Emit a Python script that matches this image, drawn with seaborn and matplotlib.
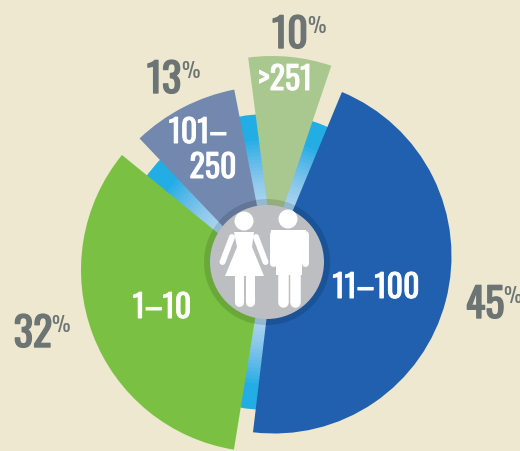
import matplotlib
matplotlib.use('Agg')
import seaborn as sns
import matplotlib.pyplot as plt
import matplotlib.patheffects as pe
from matplotlib.patches import Circle, Polygon

# group labels and the share printed next to each wedge
groups = ['11\u2013100', '1\u201310', '101\u2013\n250', '>251']
shares = [45, 32, 13, 10]
# the wedges are not drawn to scale in the original, so angles are read off it
spans = [164.3, 120.0, 32.4, 26.1]
starts = [-96.8, 140.8, 101.1, 71.3]
radii = [177.5, 182, 191, 185]
centers = [(274, 195), (263, 181), (271, 174), (272, 210)]
colors = ['#2060AE', '#7AC143', '#7388AF', '#A9C88F']

BG = '#EEE8D1'
GREY = '#6C7573'
FONT = ['Oswald', 'Saira ExtraCondensed', 'Liberation Sans', 'DejaVu Sans']

sns.set_theme(style='white')
plt.rcParams['font.family'] = FONT

fig = plt.figure(figsize=(5.2, 4.51), dpi=100, facecolor=BG)
ax = fig.add_axes([0, 0, 1, 1])
ax.set_facecolor(BG)

flat = dict(linewidth=0, edgecolor='none', antialiased=True)

# blue ring behind the wedges, fading towards the middle
ring = sns.blend_palette(['#22ADE5', '#22ADE5', '#5DB9E8', '#8CC8EC', '#AAD4EF'], 24)
for k, c in enumerate(ring):
    r = 148 - k * 90 / 24
    ax.pie([1], radius=r, center=(267, 189), colors=[c], frame=True, wedgeprops=flat)

for span, start, r, cen, col in zip(spans, starts, radii, centers, colors):
    ax.pie([span, 360 - span], startangle=start, radius=r, center=cen,
           colors=[col, 'none'], frame=True, wedgeprops=flat)

ax.add_patch(Circle((267, 189), 63, fc='black', alpha=0.13, ec='none', zorder=5))
ax.add_patch(Circle((267, 189), 57, fc='#BDBEC1', ec='none', zorder=6))

# woman
w = dict(color='white', solid_capstyle='round', zorder=7)
ax.add_patch(Circle((244, 230), 9.5, fc='white', ec='none', zorder=7))
ax.add_patch(Polygon([(234, 219), (254, 219), (252, 204), (264, 175), (225, 175), (237, 204)],
                     fc='white', ec='none', zorder=7))
ax.plot([232, 222.5], [214, 189], lw=4.3, **w)
ax.plot([256, 265.5], [214, 189], lw=4.3, **w)
ax.plot([238.5, 238.5], [176, 149], lw=6.5, **w)
ax.plot([249.5, 249.5], [176, 149], lw=6.5, **w)
# man
ax.add_patch(Circle((288, 232), 9.5, fc='white', ec='none', zorder=7))
ax.add_patch(Polygon([(271, 221), (306, 221), (307, 205), (302, 205), (302, 176), (276, 176), (276, 205), (270, 205)],
                     fc='white', ec='none', zorder=7))
ax.plot([272.5, 272.5], [217, 188], lw=5, **w)
ax.plot([305, 305], [217, 188], lw=5, **w)
ax.plot([283, 283], [178, 149], lw=7.6, **w)
ax.plot([294.5, 294.5], [178, 149], lw=7.6, **w)

# wedge labels
thick = [pe.withStroke(linewidth=0.7, foreground='white')]
inner = dict(color='white', ha='center', va='center', zorder=8, path_effects=thick)
ax.text(376, 163, groups[0], fontsize=23, **inner)
ax.text(162, 143, groups[1], fontsize=23, **inner)
ax.text(198, 318, groups[2].split('\n')[0], fontsize=23, **inner)
ax.text(213, 283, groups[2].split('\n')[1], fontsize=23, **inner)
ax.text(285, 371, groups[3], fontsize=23, **inner)

# share labels with a small raised percent sign
thick_grey = [pe.withStroke(linewidth=1.0, foreground=GREY)]
share_pos = [(485, 146), (33, 117), (164, 371), (290, 416)]
for val, (x, y) in zip(shares, share_pos):
    ax.text(x, y, str(val), color=GREY, fontsize=29, ha='center', va='center', path_effects=thick_grey)
    ax.text(x + 27, y + 9, '%', color=GREY, fontsize=15, ha='center', va='center')

ax.set_xlim(0, 520)
ax.set_ylim(0, 451)
ax.set_aspect('equal')
ax.axis('off')
fig.savefig('out.png', dpi=100, facecolor=BG)
